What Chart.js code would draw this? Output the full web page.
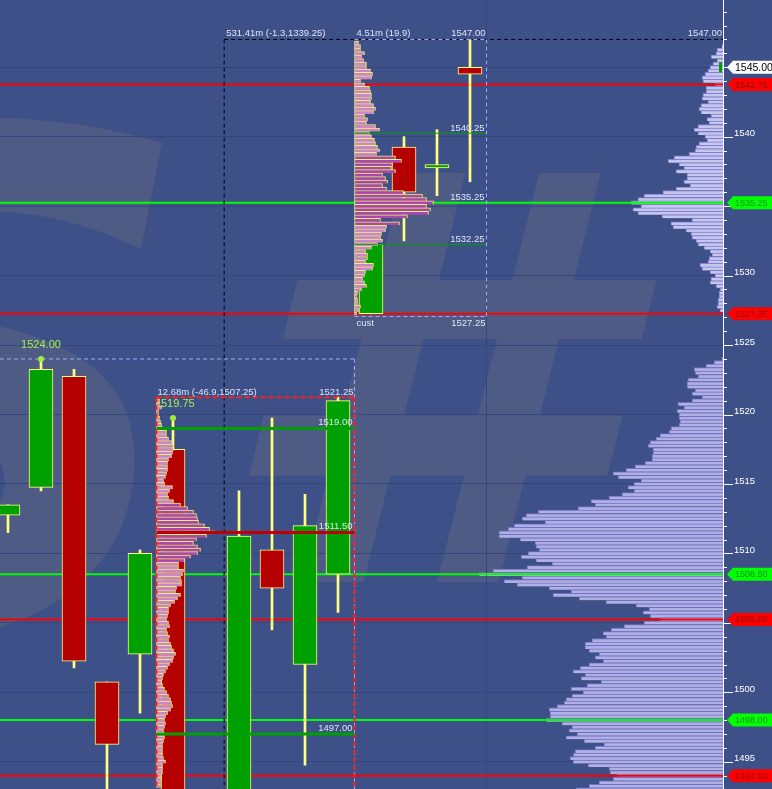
<!DOCTYPE html>
<html><head><meta charset="utf-8">
<script src="https://cdn.jsdelivr.net/npm/chart.js@4.4.1/dist/chart.umd.min.js"></script>
<style>
html,body{margin:0;padding:0;background:#3e5088;overflow:hidden;}
canvas{display:block;}
</style></head><body>
<canvas id="c" width="772" height="789"></canvas>
<script>
// ---------- data ----------
const TICK = 0.25;
const candleSlot  = [0,1,2,3,4,5,7,8,9,10,11,12,13,14];
const candleOpen  = [1512.75,1514.75,1522.75,1500.75,1502.75,1517.5,1492.5,1510.25,1502.0,1508.5,1527.25,1539.25,1537.75,1545.0];
const candleClose = [1513.5,1523.25,1502.25,1496.25,1510.0,1492.5,1511.25,1507.5,1512.0,1521.0,1532.25,1536.0,1538.0,1544.5];
const candleHigh  = [1513.5,1524.0,1523.25,1500.75,1510.25,1519.75,1514.5,1519.75,1514.25,1521.25,1532.25,1540.0,1540.5,1547.0];
const candleLow   = [1511.5,1514.5,1501.75,1492.0,1498.5,1492.0,1492.0,1504.5,1494.75,1505.75,1527.25,1532.5,1535.75,1536.75];

// volume profile (right side), one value per 0.25 row from the top price down
const vpUpperTop = 1546.5;
const vpUpper = [1,6,7,12,6,10,13,15,18,21,20,8,17,17,20,21,15,22,24,22,12,16,14,25,29,25,18,16,24,27,28,34,49,55,44,39,47,36,36,39,33,47,60,79,85,92,82,90,85,61,31,52,50,37,32,31,27,25,19,13,11,14,15,23,21,13,8,12,13,7,3,4,4,5,5,6,3];
const vpLowerTop = 1524.0;
const vpLower = [1,9,17,29,28,25,35,36,36,28,31,21,31,45,39,46,44,44,43,44,52,54,63,67,73,75,70,70,71,71,78,88,97,110,105,82,89,95,89,101,114,132,128,145,185,197,201,178,209,215,224,224,203,188,187,184,195,202,187,
  171,196,230,244,201,219,206,174,152,170,144,117,87,74,80,73,63,79,99,112,120,117,131,138,138,134,124,128,120,134,143,150,138,142,122,136,152,140,151,157,159,166,174,173,173,177,161,151,154,146,157,139,119,128,148,150,153,150,135,114,113,106,110,124,134,147];

// market (TPO) profiles
const tpoUpperTop = 1546.75;
const tpoUpper = [4,6,6,10,7,9,12,12,16,18,17,6,10,15,16,17,17,16,19,21,19,10,13,12,21,25,15,17,20,21,23,25,22,41,47,38,37,41,28,31,33,28,32,49,68,72,79,72,76,74,53,26,45,32,31,27,26,28,23,17,11,13,13,11,19,18,11,10,8,10,12,7,3,2,3,3,6,4,2];
const tpoLowerTop = 1521.0;
const tpoLower = [3,3,5,2,2,3,4,5,6,10,10,12,16,17,17,16,15,12,11,11,11,10,9,7,8,16,13,11,12,17,24,31,37,40,41,42,48,53,58,50,40,37,41,44,41,34,28,22,22,27,26,24,25,25,20,19,24,21,18,14,12,12,11,10,12,13,10,11,13,12,14,15,17,19,17,16,13,11,9,7,6,5,6,8,10,12,14,15,16,14,11,9,8,9,8,7,8,8,7,6,6,6,6,7,9,6,6,6,5,5,4,4];
const tpoUpperVA = [1533.75, 1538.5];
const tpoLowerVA = [1509.5, 1513.5];

// key levels
const levelPrice = [1543.75,1535.25,1527.25,1508.5,1505.25,1498.0,1494.0];
const levelKind  = ['r','g','r','g','r','g','r'];
const lastPrice = 1545.0;
const upperProfileLevels = [1540.25,1535.25,1532.25];
const lowerProfileLevels = [1519.0,1511.5,1497.0];
const lowerProfileKinds  = ['g','r','g'];

// sessions (slot units / prices)
const sessA = {start:6.55, high:1547.0, label:'531.41m (-1.3,1339.25)'};
const upperSess = {start:10.5, end:14.5, high:1547.0, low:1527.25, label:'4.51m (19.9)', foot:'cust'};
const lowerSess = {start:4.5, end:10.5, high:1521.25, label:'12.68m (-46.9,1507.25)'};
const prevSess  = {end:10.5, high:1524.0, highSlot:1};
const lowerHigh = {slot:5, price:1519.75, text:'519.75'};
const timeGridSlot = 14.5;

// ---------- view ----------
const X_MIN=-0.2424, X_MAX=21.667, Y_MIN=1493.04, Y_MAX=1549.84;
const TPO_UNIT = 1/33;
const ladder = (top,n)=>Array.from({length:n},(_,i)=>top-i*TICK);
const FONT = '"Liberation Sans", Arial, sans-serif';
const TXT = '#dde3f7';

function hbar(prices, vals, mapX, extra){
  return Object.assign({type:'bar', indexAxis:'y', yAxisID:'y', grouped:false, barThickness:3.47,
    borderSkipped:false,
    data: prices.map((p,i)=>({y:p, x:mapX(vals[i])}))}, extra);
}
function seg(x0,x1,y0,y1,color,width,dash,order){
  return {type:'line', xAxisID:'x', yAxisID:'y', data:[{x:x0,y:y0},{x:x1,y:y1}],
    borderColor:color, borderWidth:width, borderDash:dash||[], pointRadius:0, fill:false, order};
}

const datasets = [];
// volume profile
datasets.push(hbar(ladder(vpUpperTop,vpUpper.length), vpUpper, v=>v,
  {xAxisID:'xv', backgroundColor:'#c6c6ef', borderColor:'#8080d2', borderWidth:{top:1,left:1,right:0,bottom:0}, order:20}));
datasets.push(hbar(ladder(vpLowerTop,vpLower.length), vpLower, v=>v,
  {xAxisID:'xv', backgroundColor:'#b0b0e5', borderColor:'#7070c4', borderWidth:{top:1,left:1,right:0,bottom:0}, order:20}));
// time grid
datasets.push(seg(timeGridSlot,timeGridSlot,Y_MIN,Y_MAX,'#34467c',1,[],19));
// full width levels
levelPrice.forEach((p,i)=>datasets.push(seg(X_MIN,X_MAX,p,p, levelKind[i]==='r'?'#ff0000':'#00ff00',2,[],15)));
// session boxes
datasets.push(seg(sessA.start,X_MAX,sessA.high,sessA.high,'#000000',1,[4,3],14));
datasets.push(seg(sessA.start,sessA.start,sessA.high,Y_MIN,'#000000',1,[4,3],14));
datasets.push(seg(X_MIN,prevSess.end,prevSess.high,prevSess.high,'#a8a8ff',1,[4,3],14));
datasets.push(seg(prevSess.end,prevSess.end,prevSess.high,Y_MIN,'#a8a8ff',1,[4,3],14));
// candles
const wickData = candleSlot.map((s,i)=>({x:s, y:[candleLow[i],candleHigh[i]]}));
const bodyData = candleSlot.map((s,i)=>({x:s, y:[candleOpen[i],candleClose[i]]}));
datasets.push({type:'bar', xAxisID:'x', yAxisID:'y', grouped:false, barThickness:2, data:wickData,
  backgroundColor:'#ffff80', borderWidth:0, order:12});
datasets.push({type:'bar', xAxisID:'x', yAxisID:'y', grouped:false, barThickness:24, data:bodyData,
  backgroundColor: bodyData.map((d,i)=>candleClose[i]>=candleOpen[i]?'#00a000':'#b40000'),
  borderColor:'#ffff80', borderWidth:1, borderSkipped:false, order:11});
// TPO profiles
const tpoColor = va => c => { const p = c.raw && c.raw.y; return (p>=va[0] && p<=va[1]) ? '#a848a8' : '#c986c9'; };
const tpoBorder = {top:1,left:1,right:1,bottom:0};
datasets.push(hbar(ladder(tpoUpperTop,tpoUpper.length), tpoUpper, v=>[upperSess.start, upperSess.start+v*TPO_UNIT],
  {xAxisID:'x', backgroundColor:tpoColor(tpoUpperVA), borderColor:'#f4f070', borderWidth:tpoBorder, order:9}));
datasets.push(hbar(ladder(tpoLowerTop,tpoLower.length), tpoLower, v=>[lowerSess.start, lowerSess.start+v*TPO_UNIT],
  {xAxisID:'x', backgroundColor:tpoColor(tpoLowerVA), borderColor:'#f4f070', borderWidth:tpoBorder, order:9}));
// profile boxes & levels
datasets.push(seg(upperSess.start,upperSess.end,upperSess.high,upperSess.high,'#a8a8ff',1,[4,3],8));
datasets.push(seg(upperSess.end,upperSess.end,upperSess.high,upperSess.low-0.2,'#a8a8ff',1,[4,3],8));
datasets.push(seg(upperSess.start,upperSess.end,upperSess.low-0.2,upperSess.low-0.2,'#a8a8ff',1,[4,3],8));
datasets.push(seg(upperSess.start,upperSess.end,upperProfileLevels[0],upperProfileLevels[0],'#00a000',1,[],8));
datasets.push(seg(upperSess.start,upperSess.end,upperProfileLevels[2],upperProfileLevels[2],'#00a000',1,[],8));
lowerProfileLevels.forEach((p,i)=>datasets.push(seg(lowerSess.start,lowerSess.end,p,p,lowerProfileKinds[i]==='r'?'#c00000':'#00a000',3,[],7)));
datasets.push(seg(lowerSess.start,lowerSess.end,lowerSess.high,lowerSess.high,'#ff2020',2,[5,3],7));
datasets.push(seg(lowerSess.start,lowerSess.start,lowerSess.high,Y_MIN,'#ff2020',2,[5,3],7));
datasets.push(seg(lowerSess.end,lowerSess.end,lowerSess.high,Y_MIN,'#ff2020',2,[5,3],7));
// high markers
datasets.push({type:'line', xAxisID:'x', yAxisID:'y', showLine:false, order:5,
  data:[{x:prevSess.highSlot,y:prevSess.high},{x:lowerHigh.slot,y:lowerHigh.price}],
  pointRadius:3, pointBackgroundColor:'#9cf040', pointBorderWidth:0});

const overlay = {
  id:'overlay',
  beforeDraw(chart){
    const {ctx,width,height,chartArea:a} = chart;
    ctx.save();
    ctx.fillStyle = '#3e5088'; ctx.fillRect(0,0,width,height);
    ctx.beginPath(); ctx.rect(a.left,a.top,a.right-a.left,a.bottom-a.top); ctx.clip();
    ctx.fillStyle = 'rgba(150,140,120,0.19)';
    ctx.textBaseline = 'alphabetic';
    ctx.font = 'bold italic 690px "DejaVu Sans"'; ctx.textAlign='right';
    ctx.fillText('S', 200, 630);
    ctx.font = 'bold italic 570px "DejaVu Sans"'; ctx.textAlign='left';
    ctx.fillText('#', 212, 582);
    ctx.restore();
  },
  afterDatasetsDraw(chart){
    const ctx = chart.ctx, xs = chart.scales.x, ys = chart.scales.y;
    const X = v=>xs.getPixelForValue(v), Y = v=>ys.getPixelForValue(v);
    const T = (s,x,y,align,color,size)=>{ ctx.font = size+'px '+FONT; ctx.textAlign=align; ctx.textBaseline='middle'; ctx.fillStyle=color; ctx.fillText(s,x,y); };
    ctx.save();
    T(sessA.label, X(sessA.start)+2, Y(sessA.high)-6, 'left', TXT, 9.5);
    T(sessA.high.toFixed(2), chart.chartArea.right-1, Y(sessA.high)-6, 'right', TXT, 9.5);
    T(upperSess.label, X(upperSess.start)+2, Y(upperSess.high)-6, 'left', TXT, 9.5);
    T(upperSess.high.toFixed(2), X(upperSess.end)-1, Y(upperSess.high)-6, 'right', TXT, 9.5);
    T(upperSess.foot, X(upperSess.start)+2, Y(upperSess.low)+10, 'left', TXT, 9.5);
    T(upperSess.low.toFixed(2), X(upperSess.end)-1, Y(upperSess.low)+10, 'right', TXT, 9.5);
    upperProfileLevels.forEach(p=>T(p.toFixed(2), X(upperSess.end)-2, Y(p)-5, 'right', TXT, 9.5));
    T(lowerSess.label, X(lowerSess.start)+1, Y(lowerSess.high)-5, 'left', TXT, 9.5);
    T(lowerSess.high.toFixed(2), X(lowerSess.end)-1, Y(lowerSess.high)-5, 'right', TXT, 9.5);
    lowerProfileLevels.forEach(p=>T(p.toFixed(2), X(lowerSess.end)-2, Y(p)-6, 'right', TXT, 9.5));
    T(prevSess.high.toFixed(2), X(prevSess.highSlot), Y(prevSess.high)-14, 'center', '#a4f04c', 11);
    T(lowerHigh.text, X(lowerHigh.slot)-12, Y(lowerHigh.price)-14, 'left', '#a4f04c', 11);
    // last price marker
    ctx.fillStyle='#00a000'; ctx.fillRect(chart.chartArea.right-4, Y(lastPrice)-5, 3, 10);
    ctx.restore();
  },
  afterDraw(chart){
    const ctx = chart.ctx, ys = chart.scales.y, a = chart.chartArea;
    const Y = v=>ys.getPixelForValue(v);
    ctx.save();
    ctx.strokeStyle='#ffffff'; ctx.lineWidth=1;
    for(let v=Math.ceil(Y_MIN); v<=Math.floor(Y_MAX); v++){
      const y = Math.round(Y(v))+0.5;
      ctx.beginPath(); ctx.moveTo(a.right, y); ctx.lineTo(a.right+(v%5===0?10:4), y); ctx.stroke();
    }
    const tag = (p, fill, color, size, w)=>{
      const y = Y(p), x0 = a.right+1, h = 6.5;
      ctx.beginPath(); ctx.moveTo(x0+3,y); ctx.lineTo(x0+9,y-h); ctx.lineTo(x0+w,y-h); ctx.lineTo(x0+w,y+h); ctx.lineTo(x0+9,y+h); ctx.closePath();
      ctx.fillStyle=fill; ctx.fill();
      ctx.font = size+'px '+FONT; ctx.textAlign='left'; ctx.textBaseline='middle'; ctx.fillStyle=color;
      ctx.fillText(p.toFixed(2), x0+11, y+0.5);
    };
    levelPrice.forEach((p,i)=>{
      if(levelKind[i]==='r') tag(p,'#ff0000','#8c1010',9,48); else tag(p,'#00ff00','#1f8a1f',9,48);
    });
    tag(lastPrice,'#ffffff','#000000',10.5,48);
    ctx.restore();
  }
};

new Chart(document.getElementById('c'), {
  type:'bar',
  data:{datasets},
  options:{
    responsive:false, animation:false, events:[],
    layout:{padding:0, autoPadding:false},
    plugins:{legend:{display:false}, tooltip:{enabled:false}},
    scales:{
      x:{type:'linear', min:X_MIN, max:X_MAX, display:false, offset:false, grid:{offset:false}},
      xv:{type:'linear', min:0, max:723, reverse:true, display:false, offset:false, grid:{offset:false}},
      y:{type:'linear', position:'right', min:Y_MIN, max:Y_MAX, offset:false, beginAtZero:false,
        ticks:{stepSize:5, includeBounds:false, color:'#ffffff', padding:11, labelOffset:-3,
          font:{family:FONT, size:9.5}, callback:v=>String(v)},
        grid:{color:'#34467c', drawTicks:false, lineWidth:1, offset:false},
        border:{color:'#ffffff', width:1},
        afterFit:s=>{ s.width=49; s.paddingTop=0; s.paddingBottom=0; }
      }
    }
  },
  plugins:[overlay]
});
</script>
</body></html>
